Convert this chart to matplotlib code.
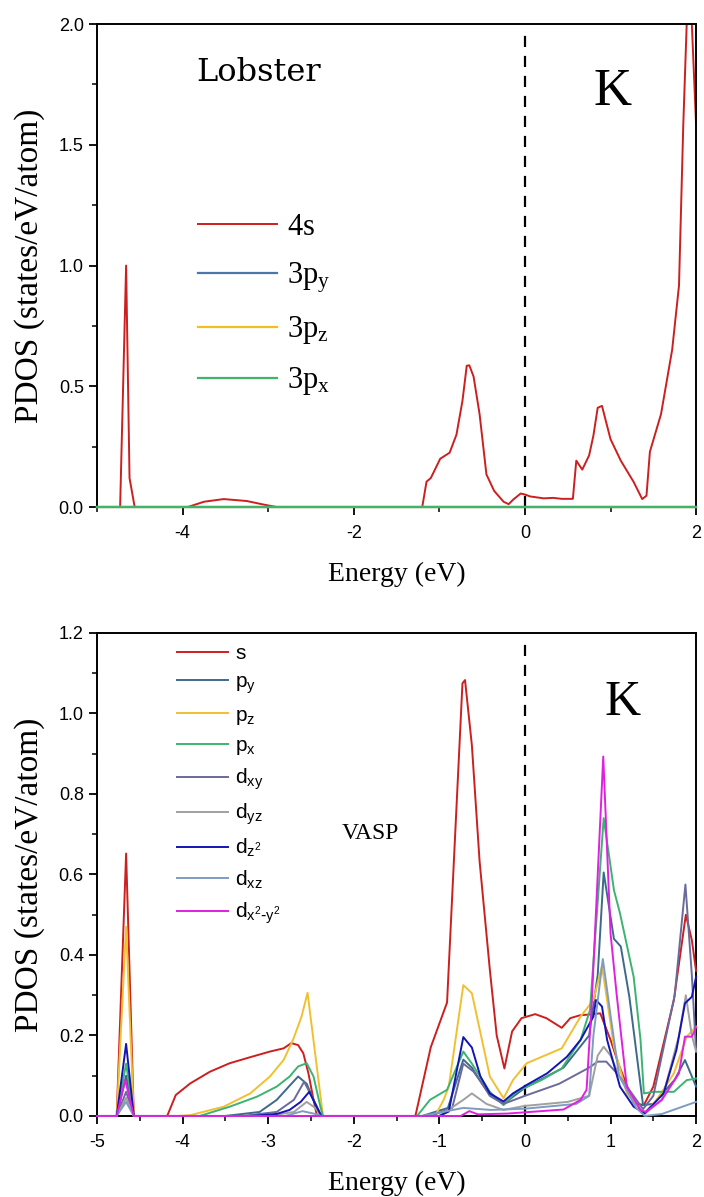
import numpy as np
import matplotlib
matplotlib.use("Agg")
import matplotlib.pyplot as plt
from matplotlib.ticker import MultipleLocator, FormatStrFormatter

plt.rcParams['font.family'] = ['Liberation Sans', 'DejaVu Sans']
plt.rcParams['axes.unicode_minus'] = False

SERIF = ['Liberation Serif', 'DejaVu Serif']

# ---- Lobster K projected DOS ----
e_4s = [-5.0, -4.73, -4.66, -4.62, -4.56, -3.94, -3.75, -3.52, -3.25, -3.05, -2.9,
        -1.2, -1.15, -1.1, -0.99, -0.88, -0.8, -0.73, -0.68, -0.65, -0.6, -0.53,
        -0.45, -0.36, -0.25, -0.19, -0.14, -0.05, 0.0, 0.06, 0.22, 0.33, 0.43, 0.56,
        0.6, 0.67, 0.75, 0.8, 0.85, 0.9, 1.0, 1.12, 1.27, 1.37, 1.42, 1.46, 1.59,
        1.72, 1.8, 1.85, 1.89, 1.92, 1.95, 2.0]
pdos_4s = [0, 0, 1.0, 0.12, 0, 0, 0.022, 0.033, 0.025, 0.01, 0,
           0, 0.105, 0.12, 0.2, 0.225, 0.3, 0.44, 0.585, 0.587, 0.54, 0.385,
           0.135, 0.067, 0.022, 0.012, 0.03, 0.056, 0.052, 0.044, 0.036, 0.038, 0.034, 0.034,
           0.192, 0.155, 0.214, 0.296, 0.411, 0.419, 0.281, 0.192, 0.104, 0.033, 0.047, 0.229, 0.385,
           0.651, 0.917, 1.583, 2.0, 2.4, 2.0, 1.58]
e_3p = [-5.0, 2.0]
pdos_3py = [0.0, 0.0]
pdos_3pz = [0.0, 0.0]
pdos_3px = [0.0, 0.0]

# ---- VASP K projected DOS ----
e_s = [-5.0, -4.77, -4.66, -4.57, -4.18, -4.08, -3.91, -3.68, -3.45, -3.21, -2.98, -2.82,
       -2.73, -2.65, -2.59, -2.53, -2.47, -2.43, -1.28, -1.1, -0.91, -0.73, -0.7, -0.62,
       -0.53, -0.41, -0.33, -0.24, -0.15, -0.04, 0.12, 0.25, 0.43, 0.53, 0.64, 0.8, 0.88,
       1.0, 1.09, 1.27, 1.39, 1.5, 1.74, 1.88, 1.95, 2.0]
s = [0, 0, 0.652, 0, 0, 0.052, 0.081, 0.11, 0.131, 0.146, 0.16, 0.168,
     0.181, 0.176, 0.156, 0.106, 0.04, 0, 0, 0.171, 0.282, 1.075, 1.083, 0.921,
     0.633, 0.363, 0.2, 0.118, 0.21, 0.243, 0.253, 0.243, 0.219, 0.243, 0.25, 0.253, 0.255,
     0.189, 0.131, 0.032, 0.027, 0.073, 0.288, 0.5, 0.437, 0.36]

e_py = [-5.0, -4.77, -4.66, -4.57, -3.5, -3.1, -2.9, -2.75, -2.65, -2.55, -2.45, -2.38,
        -1.2, -0.9, -0.72, -0.62, -0.41, -0.25, 0.0, 0.45, 0.75, 0.85, 0.92, 1.04, 1.12,
        1.22, 1.38, 1.5, 1.75, 1.87, 2.0]
py = [0, 0, 0.1, 0, 0, 0.01, 0.04, 0.075, 0.098, 0.08, 0.03, 0,
      0, 0.02, 0.14, 0.12, 0.05, 0.03, 0.07, 0.12, 0.2, 0.35, 0.605, 0.44, 0.421,
      0.296, 0.027, 0.03, 0.09, 0.139, 0.073]

e_pz = [-5.0, -4.77, -4.66, -4.57, -4.05, -3.91, -3.52, -3.21, -2.98, -2.82, -2.71, -2.61,
        -2.54, -2.36, -1.05, -0.95, -0.89, -0.72, -0.62, -0.41, -0.25, -0.14, 0.02, 0.43,
        0.65, 0.8, 0.9, 1.04, 1.19, 1.39, 1.54, 1.74, 1.89, 2.0]
pz = [0, 0, 0.47, 0, 0, 0.002, 0.023, 0.056, 0.098, 0.139, 0.189, 0.247,
      0.306, 0, 0, 0.04, 0.073, 0.325, 0.305, 0.098, 0.044, 0.089, 0.131, 0.168,
      0.247, 0.288, 0.373, 0.172, 0.056, 0.007, 0.04, 0.106, 0.197, 0.222]

e_px = [-5.0, -4.77, -4.66, -4.57, -3.8, -3.45, -3.13, -2.9, -2.75, -2.65, -2.55, -2.47,
        -2.39, -2.36, -1.26, -1.11, -0.91, -0.72, -0.62, -0.41, -0.25, -0.1, 0.2, 0.43,
        0.65, 0.76, 0.92, 1.04, 1.11, 1.27, 1.35, 1.39, 1.5, 1.74, 1.89, 2.0]
px = [0, 0, 0.13, 0, 0, 0.023, 0.048, 0.073, 0.098, 0.123, 0.131, 0.098,
      0.023, 0, 0, 0.04, 0.065, 0.16, 0.13, 0.06, 0.027, 0.06, 0.09, 0.118,
      0.189, 0.263, 0.74, 0.561, 0.504, 0.346, 0.19, 0.056, 0.06, 0.06, 0.089, 0.093]

e_dxy = [-5.0, -4.77, -4.66, -4.57, -3.3, -2.9, -2.7, -2.58, -2.47, -2.38, -1.1, -0.85,
         -0.72, -0.6, -0.4, -0.25, 0.0, 0.4, 0.75, 0.85, 0.95, 1.1, 1.38, 1.5, 1.75,
         1.875, 1.95, 2.0]
dxy = [0, 0, 0.06, 0, 0, 0.01, 0.04, 0.085, 0.04, 0, 0, 0.02,
       0.13, 0.11, 0.05, 0.03, 0.05, 0.08, 0.12, 0.135, 0.135, 0.1, 0.017, 0.05, 0.3,
       0.575, 0.35, 0.16]

e_dyz = [-5.0, -4.77, -4.66, -4.57, -3.0, -2.7, -2.55, -2.45, -2.38, -1.0, -0.72, -0.62,
         -0.45, -0.25, 0.0, 0.5, 0.75, 0.85, 0.92, 1.0, 1.1, 1.3, 1.4, 1.6, 1.8, 1.88,
         1.95, 2.0]
dyz = [0, 0, 0.045, 0, 0, 0.01, 0.035, 0.02, 0, 0, 0.04, 0.056,
       0.03, 0.015, 0.025, 0.035, 0.05, 0.15, 0.172, 0.15, 0.1, 0.03, 0.005, 0.04, 0.2, 0.3,
       0.2, 0.16]

e_dz2 = [-5.0, -4.77, -4.66, -4.57, -3.2, -2.9, -2.75, -2.62, -2.52, -2.45, -2.38, -1.0,
         -0.89, -0.72, -0.62, -0.52, -0.41, -0.25, -0.14, 0.02, 0.26, 0.49, 0.65, 0.8,
         0.83, 0.9, 0.96, 1.11, 1.27, 1.4, 1.62, 1.77, 1.87, 1.95, 2.0]
dz2 = [0, 0, 0.179, 0, 0, 0.005, 0.015, 0.035, 0.06, 0.03, 0, 0,
       0.011, 0.196, 0.17, 0.098, 0.056, 0.036, 0.056, 0.077, 0.106, 0.147, 0.189, 0.247,
       0.288, 0.272, 0.189, 0.073, 0.023, 0.007, 0.056, 0.164, 0.28, 0.296, 0.346]

e_dxz = [-5.0, -4.77, -4.66, -4.57, -2.8, -2.6, -2.45, -2.38, -1.2, -0.72, -0.4, 0.0,
         0.6, 0.75, 0.8, 0.91, 1.0, 1.1, 1.3, 1.4, 1.6, 2.0]
dxz = [0, 0, 0.035, 0, 0, 0.012, 0.005, 0, 0, 0.02, 0.015, 0.018,
       0.03, 0.05, 0.2, 0.39, 0.25, 0.1, 0.02, 0.0, 0.005, 0.035]

e_dx2y2 = [-5.0, -4.77, -4.67, -4.57, -0.75, -0.65, -0.55, -0.2, 0.45, 0.65, 0.72, 0.78,
           0.915, 1.0, 1.07, 1.19, 1.35, 1.41, 1.6, 1.8, 1.87, 1.95, 2.0]
dx2y2 = [0, 0, 0.089, 0, 0, 0.012, 0.004, 0.006, 0.016, 0.04, 0.065, 0.28,
         0.893, 0.454, 0.305, 0.073, 0.015, 0.01, 0.04, 0.106, 0.197, 0.197, 0.22]


def style_axes(ax, xmaj, xmin, ymaj, ymin):
    ax.xaxis.set_major_locator(MultipleLocator(xmaj))
    ax.xaxis.set_minor_locator(MultipleLocator(xmin))
    ax.yaxis.set_major_locator(MultipleLocator(ymaj))
    ax.yaxis.set_minor_locator(MultipleLocator(ymin))
    ax.yaxis.set_major_formatter(FormatStrFormatter('%.1f'))
    ax.tick_params(which='major', direction='out', length=6, width=1.3, labelsize=13)
    ax.tick_params(axis='x', which='major', pad=7)
    ax.tick_params(which='minor', direction='out', length=3.5, width=1.1)
    for sp in ax.spines.values():
        sp.set_linewidth(1.4)
    ax.set_xlabel('Energy (eV)', family=SERIF, fontsize=20, labelpad=14)
    ax.set_ylabel('PDOS (states/eV/atom)', family=SERIF, fontsize=24, labelpad=10)


fig = plt.figure(figsize=(7.04, 11.97), dpi=100)

# top panel
ax1 = fig.add_axes([0.1378, 0.5764, 0.851, 0.4035])
ax1.plot(e_4s, pdos_4s, color='#cc1f1f', lw=1.4, label=r'$\mathregular{4s}$')
ax1.plot(e_3p, pdos_3py, color='#4a76a8', lw=1.6, label=r'$\mathregular{3p_y}$',
         clip_on=False, zorder=3)
ax1.plot(e_3p, pdos_3pz, color='#f0c020', lw=1.6, label=r'$\mathregular{3p_z}$',
         clip_on=False, zorder=3)
ax1.plot(e_3p, pdos_3px, color='#3fb46a', lw=1.6, label=r'$\mathregular{3p_x}$',
         clip_on=False, zorder=3)
ax1.axvline(0, ymax=0.98, color='black', lw=1.6, ls=(0, (5, 4)))
ax1.set_xlim(-5, 2)
ax1.set_ylim(0, 2)
style_axes(ax1, 2, 1, 0.5, 0.25)
ax1.text(0.27, 0.9, 'Lobster', transform=ax1.transAxes, family=['DejaVu Serif'],
         fontsize=23, ha='center', va='center')
ax1.text(0.86, 0.86, 'K', transform=ax1.transAxes, family=SERIF, fontsize=38,
         ha='center', va='center')
ax1.legend(loc='center left', bbox_to_anchor=(0.1686, 0.418), frameon=False,
           prop={'family': SERIF, 'size': 22}, handlelength=2.6, handletextpad=0.3,
           borderpad=0, borderaxespad=0, labelspacing=0.62)

# bottom panel
ax2 = fig.add_axes([0.1378, 0.0677, 0.851, 0.4035])
series = [
    (e_s, s, '#cc1f1f', r'$\mathregular{s}$'),
    (e_py, py, '#3d6a8c', r'$\mathregular{p_y}$'),
    (e_pz, pz, '#f0c030', r'$\mathregular{p_z}$'),
    (e_px, px, '#3cb371', r'$\mathregular{p_x}$'),
    (e_dxy, dxy, '#6a6a9c', r'$\mathregular{d_{xy}}$'),
    (e_dyz, dyz, '#a0a0a0', r'$\mathregular{d_{yz}}$'),
    (e_dz2, dz2, '#1414b4', r'$\mathregular{d_{z^2}}$'),
    (e_dxz, dxz, '#7d9cc0', r'$\mathregular{d_{xz}}$'),
    (e_dx2y2, dx2y2, '#e020e0', r'$\mathregular{d_{x^2\text{-}y^2}}$'),
]
for e, v, c, lab in series:
    ax2.plot(e, v, color=c, lw=1.4, label=lab, clip_on=False, zorder=3)
ax2.axvline(0, ymax=0.98, color='black', lw=1.6, ls=(0, (5, 4)))
ax2.set_xlim(-5, 2)
ax2.set_ylim(0, 1.2)
style_axes(ax2, 1, 0.5, 0.2, 0.1)
ax2.text(0.457, 0.585, 'VASP', transform=ax2.transAxes, family=SERIF, fontsize=17,
         ha='center', va='center')
ax2.text(0.878, 0.855, 'K', transform=ax2.transAxes, family=SERIF, fontsize=36,
         ha='center', va='center')
ax2.legend(loc='center left', bbox_to_anchor=(0.1336, 0.685), frameon=False,
           prop={'size': 15}, handlelength=2.45, handletextpad=0.35,
           borderpad=0, borderaxespad=0, labelspacing=0.46)

fig.savefig('out.png', dpi=100)
